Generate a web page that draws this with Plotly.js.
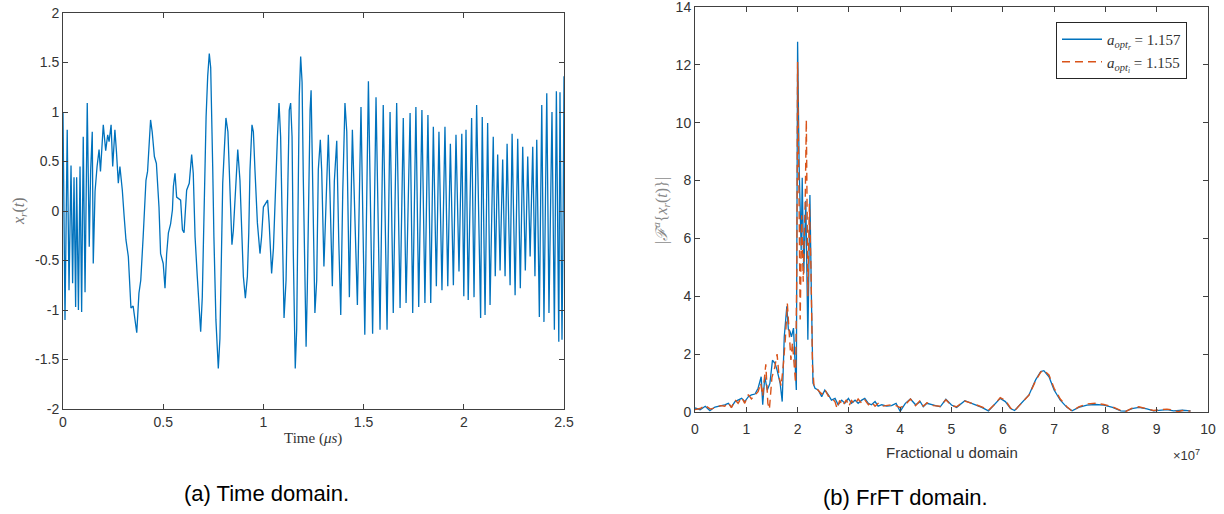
<!DOCTYPE html>
<html>
<head>
<meta charset="utf-8">
<script src="https://cdn.plot.ly/plotly-3.0.1.min.js"></script>
<style>html,body{margin:0;padding:0;background:#fff;}#chart{width:1224px;height:514px;}</style>
</head>
<body>
<div id="chart"></div>
<script>
// ---- Time-domain signal (t in microseconds) ----
const timeUs = [
0,0.010,0.021,0.030,0.040,0.048,0.055,0.063,0.068,0.077,0.085,0.093,0.101,0.110,0.121,0.131,0.138,0.146,0.151,0.160,0.170,0.180,0.187,0.201,0.213,0.223,0.230,0.240,0.248,0.259,0.267,0.276,0.284,0.296,0.305,0.314,0.326,0.334,0.339,0.350,0.360,0.368,0.379,0.388,0.400,0.414,0.422,0.431,0.437,0.445,0.456,0.466,0.479,0.487,0.500,
0.509,0.517,0.526,0.537,0.546,0.551,0.559,0.567,0.587,0.596,0.604,0.617,0.630,0.642,0.650,0.659,0.670,0.680,0.687,0.695,0.704,0.714,0.722,0.730,0.737,0.742,0.747,0.753,0.763,0.775,0.783,0.788,0.797,0.805,0.813,0.823,0.830,0.837,0.843,0.850,0.863,0.872,0.883,0.892,0.900,0.910,0.920,0.927,0.933,0.943,0.950,0.958,0.970,0.983,0.991,1.000,
1.013,1.021,1.029,1.041,1.050,1.061,1.070,1.078,1.086,1.093,1.103,1.113,1.121,1.129,1.136,1.143,1.149,1.159,1.166,1.173,1.179,1.186,1.193,1.199,1.206,1.213,1.219,1.226,1.233,1.238,1.244,1.251,1.257,1.266,1.274,1.284,1.291,1.302,1.312,1.324,1.332,1.344,1.354,1.366,1.376,1.386,1.396,1.407,1.416,1.429,1.444,1.469,1.487,1.506,
1.524,1.545,1.562,1.582,1.598,1.617,1.632,1.648,1.665,1.682,1.698,1.712,1.732,1.745,1.761,1.775,1.791,1.806,1.821,1.835,1.848,1.863,1.876,1.891,1.906,1.920,1.933,1.948,1.961,1.976,1.990,2.000,
2.011,2.022,2.039,2.051,2.064,2.084,2.092,2.106,2.119,2.131,2.147,2.157,2.169,2.181,2.194,2.206,2.216,2.231,2.241,2.256,2.269,2.282,2.294,2.307,2.319,2.331,2.344,2.355,2.364,2.377,2.389,2.400,2.414,2.425,2.440,2.452,2.462,2.474,2.480,2.490,2.496,2.500
];
const xrValues = [
0.99,-1.10,0.82,-0.80,0.46,-0.73,0.34,-0.97,0.34,-1.00,0.45,-1.02,0.75,-0.82,1.09,-0.36,0.41,0.80,-0.53,0.20,0.45,0.62,0.40,0.87,0.61,0.77,0.70,0.87,0.45,0.82,0.59,0.28,0.45,0.21,-0.05,-0.29,-0.46,-0.83,-0.98,-0.96,-1.10,-1.23,-0.83,-0.70,-0.26,0.31,0.40,0.68,0.92,0.80,0.55,0.48,0.04,-0.43,-0.53,
-0.78,-0.44,-0.22,-0.13,0.01,0.25,0.38,0.14,0.11,-0.19,-0.22,0.21,0.28,0.57,0.38,-0.26,-0.66,-0.97,-1.22,-0.87,0.11,0.95,1.36,1.59,1.45,1.02,0.45,-0.26,-1.10,-1.59,-1.29,-0.73,0.28,0.62,0.94,0.80,0.34,-0.09,-0.34,-0.20,0.28,0.62,0.31,-0.29,-0.66,-0.88,-0.66,-0.22,0.41,0.87,0.80,0.41,-0.12,-0.43,-0.26,0.04,
0.08,0.11,-0.13,-0.63,-0.38,0.31,0.75,1.09,0.75,-0.02,-1.08,-0.70,0.15,1.02,1.09,0.75,-0.40,-1.59,-1.20,0.34,1.16,1.56,1.30,0.34,-0.73,-1.37,-0.80,0.28,1.02,1.22,0.60,-0.29,-1.03,-0.70,0.42,0.72,0.40,-0.56,0.00,0.77,0.20,-0.76,0.30,0.71,-0.30,-1.05,0.20,1.09,0.80,-0.87,0.82,-0.95,1.05,-1.25,
1.31,-1.24,1.15,-1.20,1.07,-1.20,1.00,-1.03,1.09,-0.98,0.94,-0.93,0.99,-1.03,1.05,-0.97,1.02,-0.93,0.97,-0.93,0.85,-0.76,0.80,-0.80,0.85,-0.76,0.68,-0.75,0.77,-0.61,0.78,-0.86,
0.82,-0.90,0.94,-0.87,1.07,-1.08,0.95,-1.05,0.89,-0.95,0.75,-0.66,0.57,-0.60,0.52,-0.66,0.68,-0.75,0.78,-0.85,0.73,-0.78,0.65,-0.60,0.55,-0.46,0.65,-0.66,0.72,-1.07,1.07,-1.12,1.19,-1.03,1.00,-1.20,1.21,-1.32,1.20,-1.30,0.00,1.36
];

// ---- FrFT magnitude (u in units of 1e7) ----
const uBlue = [0,0.1,0.2,0.29,0.39,0.49,0.58,0.65,0.71,0.78,0.84,0.91,0.97,1.04,1.10,1.17,1.23,1.29,1.32,1.36,1.41,1.46,1.51,1.56,1.60,1.66,1.70,1.74,1.79,1.82,1.85,1.88,1.92,1.95,1.975,2.0,2.03,2.07,2.09,2.12,2.16,2.20,2.24,2.27,2.30,2.34,2.40,2.47,2.53,2.60,2.66,2.73,2.79,2.86,2.92,2.99,3.05,3.12,3.18,3.25,3.31,3.38,3.44,3.51,3.57,3.64,3.74,3.83,3.92,4.0,4.1,4.2,4.3,4.39,4.45,4.52,4.65,4.78,4.89,5.0,5.1,5.26,5.43,5.59,5.72,5.85,5.95,6.05,6.15,6.23,6.38,6.51,6.64,6.74,6.80,6.90,7.0,7.12,7.25,7.35,7.48,7.64,7.81,7.97,8.14,8.3,8.4,8.52,8.65,8.81,8.94,9.07,9.2,9.33,9.5,9.66];
const magBlue = [0.14,0.08,0.2,0.05,0.17,0.2,0.25,0.3,0.17,0.36,0.41,0.47,0.36,0.53,0.59,0.62,0.82,1.22,0.25,1.22,0.76,0.99,1.79,1.68,1.45,0.99,0.36,2.6,3.65,2.85,2.8,2.6,2.9,1.57,0.76,12.8,8.5,5.6,8.1,4.8,7.3,2.5,7.5,3.9,1.0,0.82,0.76,0.53,0.76,0.59,0.41,0.47,0.25,0.41,0.3,0.47,0.3,0.41,0.3,0.41,0.47,0.3,0.25,0.36,0.2,0.25,0.2,0.22,0.3,0.02,0.3,0.45,0.25,0.36,0.18,0.3,0.24,0.18,0.44,0.24,0.16,0.39,0.27,0.16,0.04,0.27,0.47,0.36,0.12,0.05,0.36,0.59,1.11,1.40,1.43,1.22,0.76,0.41,0.16,0.04,0.16,0.24,0.26,0.24,0.16,0.04,0.03,0.12,0.16,0.11,0.04,0.06,0.08,0.04,0.06,0.04];
const uOrange = [0,0.1,0.2,0.3,0.4,0.5,0.58,0.65,0.71,0.78,0.84,0.91,0.97,1.04,1.10,1.17,1.23,1.28,1.32,1.38,1.42,1.45,1.50,1.55,1.60,1.64,1.68,1.72,1.76,1.80,1.84,1.87,1.90,1.93,1.96,1.985,2.0,2.03,2.05,2.08,2.11,2.15,2.17,2.20,2.23,2.26,2.29,2.32,2.37,2.42,2.47,2.53,2.60,2.66,2.73,2.77,2.82,2.88,2.95,3.0,3.05,3.12,3.18,3.25,3.31,3.38,3.44,3.51,3.57,3.64,3.74,3.83,3.92,4.0,4.1,4.2,4.3,4.39,4.45,4.52,4.65,4.78,4.89,5.0,5.1,5.26,5.43,5.59,5.72,5.85,5.95,6.05,6.15,6.23,6.38,6.51,6.64,6.74,6.80,6.90,7.0,7.12,7.25,7.35,7.48,7.64,7.81,7.97,8.14,8.3,8.4,8.52,8.65,8.81,8.94,9.07,9.2,9.33,9.42,9.5,9.66];
const magOrange = [0.08,0.12,0.22,0.1,0.15,0.22,0.2,0.32,0.15,0.42,0.3,0.5,0.3,0.6,0.45,0.58,0.7,1.0,0.55,1.65,0.3,0.1,1.2,1.5,2.0,1.2,0.9,1.6,2.5,3.75,2.5,1.8,2.4,1.5,1.0,5.0,12.1,7.0,3.2,6.8,4.5,7.5,10.1,4.0,7.2,5.0,1.6,0.9,0.8,0.7,0.62,0.78,0.55,0.5,0.35,0.12,0.4,0.22,0.42,0.2,0.4,0.28,0.45,0.3,0.42,0.25,0.35,0.2,0.3,0.2,0.22,0.25,0.22,0.15,0.25,0.45,0.22,0.4,0.2,0.32,0.22,0.2,0.42,0.22,0.18,0.38,0.28,0.18,0.06,0.28,0.5,0.4,0.14,0.04,0.34,0.58,1.08,1.38,1.44,1.28,0.82,0.45,0.18,0.03,0.18,0.28,0.3,0.26,0.18,0.05,0.02,0.13,0.18,0.12,0.05,0.08,0.1,0.06,0.01,0.05,0.03];

// ---- tick labels ----
const tTickVals = [0,0.5,1,1.5,2,2.5];
const tTickText = ['0','0.5','1','1.5','2','2.5'];
const xrTickVals = [-2,-1.5,-1,-0.5,0,0.5,1,1.5,2];
const xrTickText = ['-2','-1.5','-1','-0.5','0','0.5','1','1.5','2'];
const uTickVals = [0,1,2,3,4,5,6,7,8,9,10];
const uTickText = ['0','1','2','3','4','5','6','7','8','9','10'];
const magTickVals = [0,2,4,6,8,10,12,14];
const magTickText = ['0','2','4','6','8','10','12','14'];

const legendBlue = '<i>a</i><sub><i>opt<sub>r</sub></i></sub> = 1.157';
const legendOrange = '<i>a</i><sub><i>opt<sub>i</sub></i></sub> = 1.155';

const blue = '#0072BD', orange = '#D95319';
const axColor = '#404040';
const tickFont = {family:'Liberation Sans, Arial, sans-serif', size:14, color:'#333333'};

const traces = [
  {x: timeUs, y: xrValues, type:'scatter', mode:'lines', line:{color:blue, width:1.3}, xaxis:'x', yaxis:'y', showlegend:false, hoverinfo:'skip'},
  {x: uBlue, y: magBlue, type:'scatter', mode:'lines', name: legendBlue, line:{color:blue, width:1.3}, xaxis:'x2', yaxis:'y2'},
  {x: uOrange, y: magOrange, type:'scatter', mode:'lines', name: legendOrange, line:{color:orange, width:1.4, dash:'8px,5px'}, xaxis:'x2', yaxis:'y2'}
];

function ax(extra){
  return Object.assign({ticks:'inside', ticklen:5, tickwidth:1, tickcolor:axColor, mirror:'allticks', showline:true, linecolor:axColor, linewidth:1, showgrid:false, zeroline:false, tickfont:tickFont, ticklabeloverflow:'allow', fixedrange:true}, extra);
}

function note(text, x, y, font, angle){
  const a = {text:text, xref:'paper', yref:'paper', x:x/1224, y:(514-y)/514, xanchor:'center', yanchor:'middle', showarrow:false, font:font};
  if (angle !== undefined) a.textangle = angle;
  return a;
}

const serif = 'Liberation Serif, serif';
const sans = 'Liberation Sans, Arial, sans-serif';

const layout = {
  width:1224, height:514,
  margin:{l:0, r:0, t:0, b:0},
  paper_bgcolor:'#ffffff', plot_bgcolor:'#ffffff',
  showlegend:true,
  xaxis: ax({domain:[63/1224, 564/1224], range:[0,2.5], tickvals:tTickVals, ticktext:tTickText, anchor:'y'}),
  yaxis: ax({domain:[(514-409)/514, (514-13)/514], range:[-2,2], tickvals:xrTickVals, ticktext:xrTickText, anchor:'x'}),
  xaxis2: ax({domain:[695/1224, 1208/1224], range:[0,10], tickvals:uTickVals, ticktext:uTickText, anchor:'y2', ticklabelstandoff:4}),
  yaxis2: ax({domain:[(514-412)/514, (514-7)/514], range:[0,14], tickvals:magTickVals, ticktext:magTickText, anchor:'x2'}),
  legend:{x:1056/1224, y:(514-22)/514, xanchor:'left', yanchor:'top', bgcolor:'#ffffff', bordercolor:'#262626', borderwidth:1, font:{family:serif, size:15, color:'#333'}, tracegroupgap:0, itemwidth:40},
  annotations:[
    note('<i>x</i><sub><i>r</i></sub>(<i>t</i>)', 19, 211, {family:serif, size:16, color:'#777'}, -90),
    note('Time (<i>μs</i>)', 313, 438, {family:serif, size:15, color:'#333'}),
    note('|<i>ℱ</i><sup><i>a</i></sup>{<i>x</i><sub><i>r</i></sub>(<i>t</i>)}|', 661, 211, {family:serif, size:16, color:'#888'}, -90),
    note('Fractional u domain', 952, 452, {family:sans, size:15, color:'#333'}),
    note('×10<sup>7</sup>', 1186, 455, {family:sans, size:13, color:'#333'}),
    note('(a) Time domain.', 266, 493, {family:sans, size:22, color:'#000'}),
    note('(b) FrFT domain.', 905, 497, {family:sans, size:22, color:'#000'})
  ]
};

Plotly.newPlot('chart', traces, layout, {staticPlot:true, displayModeBar:false});
</script>
</body>
</html>
